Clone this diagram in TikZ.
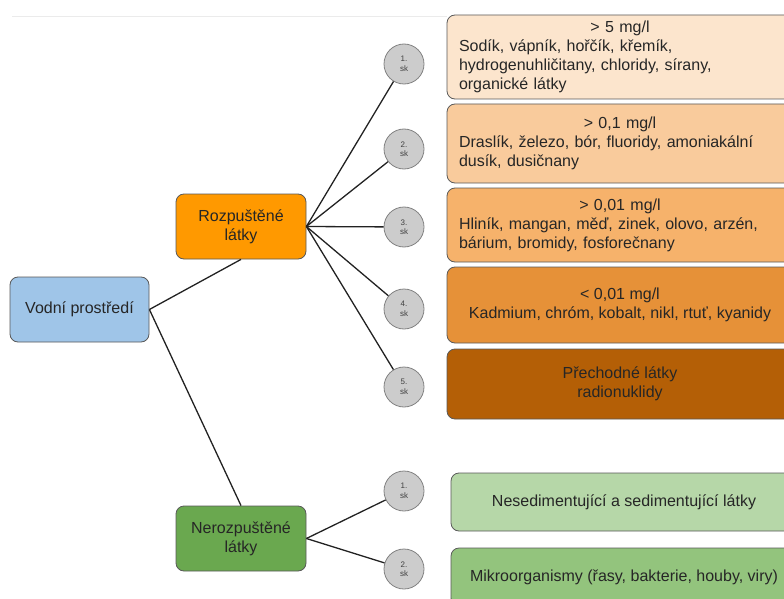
\documentclass[tikz,border=0pt]{standalone}
\usepackage{fontspec}
\setmainfont{Liberation Sans}
\definecolor{cBlue}{HTML}{9FC5E8}
\definecolor{cOrange}{HTML}{FF9900}
\definecolor{cGreen}{HTML}{6AA84F}
\definecolor{cO1}{HTML}{FCE5CD}
\definecolor{cO2}{HTML}{F9CB9C}
\definecolor{cO3}{HTML}{F6B26B}
\definecolor{cO4}{HTML}{E69138}
\definecolor{cO5}{HTML}{B45F06}
\definecolor{cG1}{HTML}{B6D7A8}
\definecolor{cG2}{HTML}{93C47D}
\definecolor{cCirc}{HTML}{CCCCCC}
\definecolor{cBord}{HTML}{595959}
\definecolor{cLine}{HTML}{222222}
\tikzset{
  mainbox/.style={draw=cBord, line width=0.8pt, rounded corners=8pt, minimum width=130pt, minimum height=65pt, align=center, inner sep=0pt, font=\fontsize{16}{19}\selectfont, text=black!85},
  rbox/.style={draw=cBord, line width=0.8pt, rounded corners=8pt, minimum width=346pt, inner sep=0pt, font=\fontsize{16}{19}\selectfont, text=black!85},
  grp/.style={circle, draw=cBord!75, fill=cCirc, line width=0.8pt, minimum size=40pt, inner sep=0pt, align=center, font=\fontsize{8}{9.5}\selectfont, text=black!75},
  conn/.style={draw=cLine, line width=1.3pt}
}
\begin{document}
\begin{tikzpicture}[x=1pt,y=-1pt]
\useasboundingbox (0,0) rectangle (784,599);
\clip (0,0) rectangle (784,599);
\draw[black!8, line width=0.7pt] (12,16) -- (447,16);

% main boxes
\node[mainbox, fill=cBlue, minimum width=139pt] (voda) at (79.5,309.5) {Vodní prostředí};
\node[mainbox, fill=cOrange] (rozp) at (241,226.5) {Rozpuštěné\\látky};
\node[mainbox, fill=cGreen] (neroz) at (241,538.5) {Nerozpuštěné\\látky};

% circles
\node[grp] (r1) at (404,64) {1.\\sk};
\node[grp] (r2) at (404,149) {2.\\sk};
\node[grp] (r3) at (404,227) {3.\\sk};
\node[grp] (r4) at (404,309) {4.\\sk};
\node[grp] (r5) at (404,387) {5.\\sk};
\node[grp] (n1) at (404,491) {1.\\sk};
\node[grp] (n2) at (404,569) {2.\\sk};

% right boxes
\node[rbox, fill=cO1, minimum height=84pt, text width=322pt, align=left] (b1) at (620,57)
  {\makebox[\linewidth]{> 5 mg/l}\\Sodík, vápník, hořčík, křemík,\\hydrogenuhličitany, chloridy, sírany,\\organické látky};
\node[rbox, fill=cO2, minimum height=79pt, text width=322pt, align=left] (b2) at (620,143.5)
  {\makebox[\linewidth]{> 0,1 mg/l}\\Draslík, železo, bór, fluoridy, amoniakální\\dusík, dusičnany};
\node[rbox, fill=cO3, minimum height=74pt, text width=322pt, align=left] (b3) at (620,225)
  {\makebox[\linewidth]{> 0,01 mg/l}\\Hliník, mangan, měď, zinek, olovo, arzén,\\bárium, bromidy, fosforečnany};
\node[rbox, fill=cO4, minimum height=76pt, align=center] (b4) at (620,305)
  {< 0,01 mg/l\\Kadmium, chróm, kobalt, nikl, rtuť, kyanidy};
\node[rbox, fill=cO5, minimum height=70pt, align=center] (b5) at (620,384)
  {Přechodné látky\\radionuklidy};
\node[rbox, fill=cG1, minimum height=58pt, align=center] (g1) at (624,502)
  {Nesedimentující a sedimentující látky};
\node[rbox, fill=cG2, minimum height=58pt, align=center] (g2) at (624,577)
  {Mikroorganismy (řasy, bakterie, houby, viry)};

% connectors
\draw[conn] (voda.east) -- (rozp.south);
\draw[conn] (voda.east) -- (neroz.north);
\foreach \c in {r1,r2,r3,r4,r5} \draw[conn] (rozp.east) -- (\c);
\foreach \c in {n1,n2} \draw[conn] (neroz.east) -- (\c);
\end{tikzpicture}
\end{document}
